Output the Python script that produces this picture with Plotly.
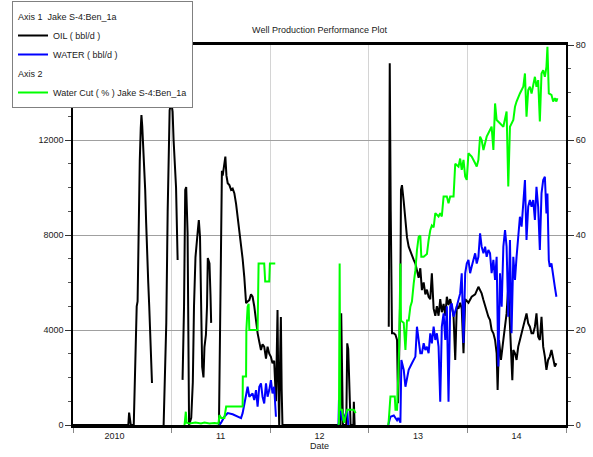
import pandas as pd
import plotly.graph_objects as go

# ---------------- data ----------------
# dates are given as decimal years; None = gap in the record
oil_year = [2010.000, 2010.561, 2010.569, 2010.579, 2010.586, 2010.616, 2010.631, 2010.646, 2010.655, 2010.667,
            2010.677, 2010.687, 2010.694, 2010.702, 2010.710, 2010.722, 2010.732, 2010.742, 2010.753, 2010.763,
            2010.773, 2010.783, 2010.801, 2010.802,
            2010.919, 2010.934, 2010.946, 2010.960, 2010.968, 2010.980, 2010.997, 2011.010, 2011.020, 2011.030,
            2011.045, 2011.061, 2011.062,
            2011.111, 2011.126, 2011.138, 2011.148, 2011.162, 2011.172, 2011.177, 2011.199, 2011.215, 2011.227,
            2011.242, 2011.266, 2011.276, 2011.288, 2011.298, 2011.310, 2011.323, 2011.333, 2011.348, 2011.359,
            2011.367, 2011.384, 2011.394, 2011.401, 2011.402,
            2011.480, 2011.485, 2011.502, 2011.510, 2011.518, 2011.530, 2011.545, 2011.556, 2011.569, 2011.586,
            2011.603, 2011.619, 2011.636, 2011.654, 2011.670, 2011.687, 2011.704, 2011.720, 2011.737, 2011.755,
            2011.771, 2011.788, 2011.805, 2011.821, 2011.838, 2011.856, 2011.872, 2011.889, 2011.906, 2011.922,
            2011.939, 2011.957, 2011.973, 2011.990, 2012.007, 2012.023, 2012.040, 2012.058, 2012.066, 2012.074,
            2012.081, 2012.091, 2012.101, 2012.108, 2012.116, 2012.124,
            2012.697, 2012.712, 2012.720, 2012.730, 2012.737, 2012.771, 2012.781, 2012.791, 2012.803, 2012.815,
            2012.843, 2012.848, 2012.856, 2012.857,
            2013.202, 2013.212, 2013.222, 2013.229, 2013.235, 2013.253, 2013.270, 2013.286, 2013.296, 2013.308,
            2013.320, 2013.326, 2013.336, 2013.354, 2013.371, 2013.387, 2013.404, 2013.421, 2013.437, 2013.455,
            2013.472, 2013.488, 2013.505, 2013.522, 2013.538, 2013.556, 2013.573, 2013.589, 2013.606, 2013.623,
            2013.639, 2013.657, 2013.674, 2013.690, 2013.707, 2013.724, 2013.740, 2013.758, 2013.775, 2013.791,
            2013.808, 2013.825, 2013.841, 2013.859, 2013.876, 2013.892, 2013.909, 2013.926, 2013.942, 2013.960,
            2013.977, 2014.010, 2014.043, 2014.078, 2014.111, 2014.144, 2014.162, 2014.179, 2014.212, 2014.229,
            2014.245, 2014.263, 2014.280, 2014.296, 2014.306, 2014.320, 2014.340, 2014.364, 2014.381, 2014.397,
            2014.414, 2014.431, 2014.455, 2014.465, 2014.482, 2014.498, 2014.515, 2014.532, 2014.549, 2014.566,
            2014.583, 2014.599, 2014.616, 2014.633, 2014.650, 2014.667, 2014.684, 2014.700, 2014.717, 2014.734,
            2014.751, 2014.768, 2014.785, 2014.801, 2014.818, 2014.835, 2014.852, 2014.869, 2014.886, 2014.902]
oil_bbl_d = [0, 0, 520, 300, 0, 0, 3000, 5000, 5200, 9500,
             11100, 12500, 13050, 12600, 12000, 10800, 9900, 8500, 6600, 6000,
             5000, 3500, 1770, None,
             0, 2500, 4300, 9000, 11300, 13260, 13570, 13200, 12000, 11300,
             10000, 6950, None,
             1900, 5000, 9900, 10020, 8080, 3000, 0, 300, 1800, 5000,
             7070, 8200, 8630, 7920, 6000, 2440, 2000, 3280, 3800, 5000,
             7030, 6800, 5500, 4300, None,
             0, 2000, 10300, 10700, 10500, 10900, 11300, 10500, 10180, 10100,
             9900, 9950, 9760, 9300, 8760, 8100, 7660, 7000, 6230, 5130,
             5200, 5260, 5500, 5400, 5000, 4300, 3870, 3500, 3160, 3400,
             3300, 2800, 3300, 3000, 2870, 2600, 2700, 1000, 3500, 4840,
             2000, 0, 3000, 4550, 1500, 0,
             0, 0, 4700, 1760, 0, 0, 3440, 3200, 1000, 0,
             0, 980, 0, None,
             4140, 15230, 9000, 5260, 3860, 3860, 3800, 3580, 920, 3000,
             5960, 9900, 10100, 9400, 8490, 7900, 7510, 7300, 7200, 6950,
             6800, 6530, 6200, 6600, 5680, 6000, 5500, 5700, 5400, 5300,
             6390, 4900, 4600, 5000, 4600, 5300, 4750, 5100, 4600, 5400,
             5050, 5300, 4900, 4600, 2740, 5000, 4900, 5150, 4900, 3020,
             5300, 5150, 5400, 5500, 5820, 5540, 5260, 4980, 4560, 4420,
             4000, 3860, 3580, 3020, 1470, 3580, 2740, 3580, 4140, 4700,
             5820, 4280, 1890, 3160, 3020, 2740, 3300, 3580, 3860, 4140,
             4420, 4700, 4280, 4140, 3860, 3860, 4140, 4700, 3720, 3580,
             4560, 3300, 2880, 2320, 2740, 2880, 3160, 2740, 2460, 2600]

water_year = [2011.485, 2011.502, 2011.535, 2011.569, 2011.619, 2011.670, 2011.704, 2011.720, 2011.755, 2011.771,
              2011.788, 2011.821, 2011.838, 2011.856, 2011.872, 2011.889, 2011.906, 2011.922, 2011.939, 2011.957,
              2011.973, 2011.990, 2012.007, 2012.023, 2012.040, 2012.058, 2012.059,
              2012.692, 2012.697, 2012.712, 2012.730, 2012.747, 2012.781, 2012.791, 2012.792,
              2013.197, 2013.219, 2013.253, 2013.286, 2013.298, 2013.320, 2013.330, 2013.354, 2013.371, 2013.387,
              2013.404, 2013.437, 2013.455, 2013.472, 2013.488, 2013.505, 2013.522, 2013.538, 2013.556, 2013.573,
              2013.589, 2013.606, 2013.623, 2013.639, 2013.657, 2013.674, 2013.690, 2013.707, 2013.724, 2013.740,
              2013.758, 2013.775, 2013.791, 2013.808, 2013.825, 2013.841, 2013.859, 2013.892, 2013.926, 2013.942,
              2013.960, 2013.977, 2013.993, 2014.010, 2014.027, 2014.043, 2014.078, 2014.094, 2014.111, 2014.128,
              2014.144, 2014.162, 2014.179, 2014.195, 2014.212, 2014.229, 2014.245, 2014.263, 2014.280, 2014.296,
              2014.313, 2014.330, 2014.347, 2014.364, 2014.381, 2014.397, 2014.414, 2014.431, 2014.447, 2014.465,
              2014.482, 2014.498, 2014.515, 2014.532, 2014.549, 2014.566, 2014.583, 2014.599, 2014.616, 2014.633,
              2014.650, 2014.667, 2014.684, 2014.700, 2014.717, 2014.734, 2014.751, 2014.768, 2014.785, 2014.801,
              2014.811, 2014.825, 2014.835, 2014.852, 2014.869, 2014.886, 2014.902]
water_bbl_d = [0, 100, 350, 500, 450, 350, 290, 500, 1190, 1610,
               1190, 1330, 1050, 1470, 770, 1610, 1750, 1190, 910, 1750,
               1190, 1470, 1890, 1330, 1610, 350, None,
               0, 1050, 600, 200, 300, 630, 0, None,
               0, 350, 400, 200, 300, 100, 2740, 2320, 1610, 2040,
               2320, 2600, 2740, 2880, 4140, 3580, 3020, 3020, 3440, 3160,
               3300, 3020, 3860, 3440, 4140, 3580, 3860, 3300, 980, 4140,
               4700, 3580, 5000, 980, 5000, 5120, 4560, 5000, 5540, 6390,
               3450, 6390, 6800, 6950, 6390, 6670, 7230, 6800, 7080, 8070,
               7510, 7230, 7510, 7080, 7370, 7230, 6390, 6950, 6110, 7080,
               2460, 6390, 4980, 7510, 8210, 7510, 4560, 7790, 3860, 7080,
               6110, 7080, 7790, 8770, 8350, 9190, 10310, 7790, 9190, 9470,
               9190, 9470, 8630, 10030, 9190, 7370, 9750, 10310, 10450, 8910,
               9750, 6940, 6660, 6800, 6390, 5820, 5400]

wcut_year = [2011.131, 2011.144, 2011.152, 2011.182, 2011.242, 2011.298, 2011.333, 2011.384, 2011.434, 2011.475,
             2011.485, 2011.502, 2011.535, 2011.553, 2011.720, 2011.722, 2011.755, 2011.758, 2011.771, 2011.781,
             2011.788, 2011.872, 2011.882, 2011.939, 2011.949, 2011.990, 2011.997, 2012.051, 2012.052,
             2012.692, 2012.697, 2012.704, 2012.710, 2012.727, 2012.747, 2012.781, 2012.803, 2012.848, 2012.866,
             2012.867,
             2013.197, 2013.202, 2013.219, 2013.263, 2013.270, 2013.286, 2013.298, 2013.308, 2013.320, 2013.326,
             2013.354, 2013.371, 2013.387, 2013.404, 2013.421, 2013.437, 2013.455, 2013.472, 2013.488, 2013.505,
             2013.522, 2013.532, 2013.556, 2013.589, 2013.606, 2013.623, 2013.639, 2013.657, 2013.674, 2013.707,
             2013.724, 2013.740, 2013.758, 2013.791, 2013.808, 2013.825, 2013.859, 2013.876, 2013.909, 2013.926,
             2013.942, 2013.960, 2013.977, 2013.993, 2014.010, 2014.043, 2014.078, 2014.094, 2014.111, 2014.128,
             2014.144, 2014.162, 2014.195, 2014.212, 2014.229, 2014.245, 2014.263, 2014.280, 2014.296, 2014.330,
             2014.364, 2014.397, 2014.414, 2014.431, 2014.465, 2014.482, 2014.498, 2014.532, 2014.566, 2014.583,
             2014.599, 2014.616, 2014.633, 2014.650, 2014.667, 2014.684, 2014.700, 2014.717, 2014.734, 2014.751,
             2014.768, 2014.785, 2014.801, 2014.811, 2014.825, 2014.852, 2014.869, 2014.886, 2014.902, 2014.912]
wcut_pct = [0, 2.8, 0.5, 0.3, 0.5, 0.3, 0.5, 0.3, 0.4, 0.3,
            2.1, 1.5, 1.5, 3.9, 3.9, 10.2, 10.2, 20, 24.9, 25.5,
            20, 20, 34, 34, 30.2, 30.2, 34, 34, None,
            0, 0.5, 34, 3.2, 3.2, 0.5, 3.2, 3.2, 3.2, 2.5,
            None,
            0, 1, 6, 6, 3.2, 3.2, 10.2, 17, 34, 22,
            21.5, 15.8, 22, 22, 24.9, 26, 29.8, 32.6, 36.8, 39.6,
            39.9, 35.4, 35.4, 36, 38.9, 41, 42, 41.6, 44.6, 43.9,
            44.6, 43.9, 48.1, 48.1, 46.7, 48.1, 48.1, 55, 54.4, 56.1,
            53.7, 55.8, 52.3, 51.6, 57.2, 56.5, 55.1, 54.4, 55.8, 60.7,
            60.0, 57.9, 60.7, 61.4, 62.1, 62.8, 57.9, 67.7, 64.2, 63.5,
            62.8, 66, 50.2, 62.8, 64.2, 67, 68.1, 69.8, 71.2, 74,
            64.9, 70.5, 71.2, 69.8, 71.9, 73.3, 71.2, 72.6, 63.9, 74,
            74.7, 73.3, 75.4, 79.6, 69.8, 69.5, 68.1, 68.8, 68.1, 68.8]

year_labels = ["2010", "11", "12", "13", "14"]
year_label_pos = ["2010-06-04", "2011-07-02", "2012-07-02", "2013-07-02", "2014-07-02"]
year_bounds = ["2010-01-01", "2011-01-01", "2012-01-01", "2013-01-01", "2014-01-01", "2015-01-01"]
oil_ticks = [0, 4000, 8000, 12000]
oil_tick_text = ["0", "4000", "8000", "12000"]
wcut_ticks = [0, 20, 40, 60, 80]
wcut_tick_text = ["0", "20", "40", "60", "80"]

assert len(oil_year) == len(oil_bbl_d)
assert len(water_year) == len(water_bbl_d)
assert len(wcut_year) == len(wcut_pct)

T0 = pd.Timestamp("2010-01-01")


def to_dates(years):
    return [T0 + pd.Timedelta(days=(y - 2010.0) * 365.25) for y in years]


FONT = "Liberation Sans Narrow, Liberation Sans, Arial, sans-serif"
TXT = "#1a1a1a"
FS = 9

fig = go.Figure()
fig.add_trace(go.Scatter(
    x=to_dates(oil_year), y=oil_bbl_d, mode="lines", name="OIL ( bbl/d )",
    line=dict(color="#000000", width=2), legendgroup="a1",
    legendgrouptitle=dict(text="Axis 1  Jake S-4:Ben_1a", font=dict(size=FS, color=TXT, family=FONT)),
))
fig.add_trace(go.Scatter(
    x=to_dates(water_year), y=water_bbl_d, mode="lines", name="WATER ( bbl/d )",
    line=dict(color="#0000FF", width=2), legendgroup="a1",
))
fig.add_trace(go.Scatter(
    x=to_dates(wcut_year), y=wcut_pct, mode="lines", name="Water Cut ( % ) Jake S-4:Ben_1a",
    line=dict(color="#00FF00", width=2), legendgroup="a2", yaxis="y2",
    legendgrouptitle=dict(text="Axis 2", font=dict(size=FS, color=TXT, family=FONT)),
))

fig.update_layout(
    width=593, height=457,
    margin=dict(l=73, r=27, t=45, b=32, autoexpand=False),
    paper_bgcolor="white", plot_bgcolor="white",
    font=dict(family=FONT, size=FS, color=TXT),
    title=dict(text="Well Production Performance Plot", x=0.5, xref="paper",
               y=1 - 30 / 457, yref="container", yanchor="middle", xanchor="center",
               font=dict(size=FS, color=TXT, family=FONT)),
    showlegend=True,
    legend=dict(
        xref="container", yref="container", x=12 / 593, y=1 - 1 / 457,
        xanchor="left", yanchor="top", bgcolor="white", bordercolor="#808080", borderwidth=1,
        traceorder="grouped", tracegroupgap=0, font=dict(size=FS, color=TXT, family=FONT),
        itemwidth=30,
    ),
    xaxis=dict(
        type="date", range=["2010-01-01", "2015-01-01"],
        tickmode="array", tickvals=year_label_pos, ticktext=year_labels,
        ticks="", showgrid=False, zeroline=False,
        showline=True, linecolor="black", linewidth=3, mirror=True,
        tickfont=dict(size=FS, color=TXT),
        minor=dict(tickmode="array", tickvals=year_bounds, ticks="outside", ticklen=5,
                   tickcolor="#888888", showgrid=True, gridcolor="#d4d4d4", gridwidth=1),
        title=dict(text="Date", standoff=2, font=dict(size=FS, color=TXT)),
    ),
    yaxis=dict(
        range=[0, 16000], tickmode="array", tickvals=oil_ticks, ticktext=oil_tick_text,
        ticks="outside", ticklen=6, tickcolor="#333333",
        showgrid=True, gridcolor="#a0a0a0", gridwidth=1, zeroline=False,
        showline=True, linecolor="black", linewidth=1.5,
        minor=dict(dtick=1000, ticks="outside", ticklen=3, tickcolor="#555555", showgrid=False),
        tickfont=dict(size=FS, color=TXT),
    ),
    yaxis2=dict(
        range=[0, 80], overlaying="y", side="right", tickmode="array", tickvals=wcut_ticks,
        ticktext=wcut_tick_text,
        ticks="outside", ticklen=6, tickcolor="#333333", showgrid=False, zeroline=False,
        showline=True, linecolor="black", linewidth=2,
        minor=dict(dtick=5, ticks="outside", ticklen=3, tickcolor="#555555", showgrid=False),
        tickfont=dict(size=FS, color=TXT),
    ),
)

# the page body must not add its default 8px margin around the figure
fig.write_html("out.html", config={"displayModeBar": False},
               post_script="document.body.style.margin='0';document.body.style.overflow='hidden';")
